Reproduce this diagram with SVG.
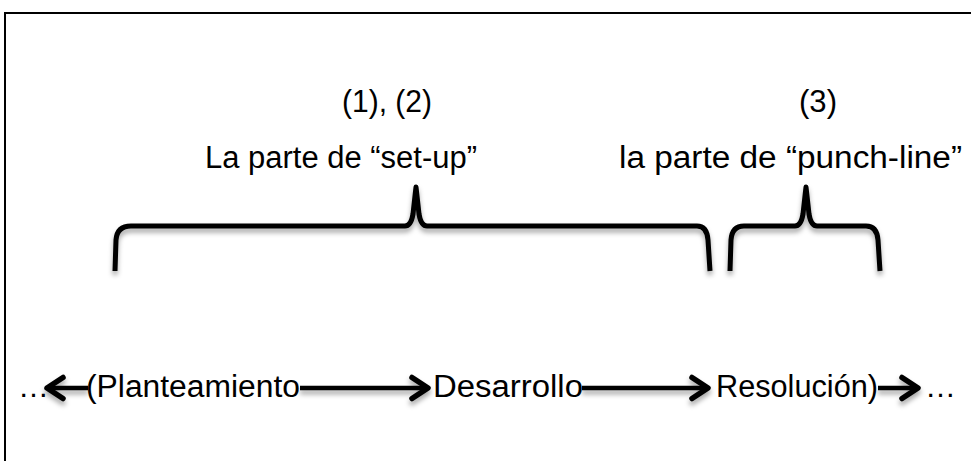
<svg xmlns="http://www.w3.org/2000/svg" width="971" height="461" viewBox="0 0 971 461">
  <defs>
    <filter id="shadow" filterUnits="userSpaceOnUse" x="0" y="0" width="971" height="461">
      <feDropShadow dx="0" dy="4" stdDeviation="2.5" flood-color="#000" flood-opacity="0.35"/>
    </filter>
    <marker id="head" viewBox="0 0 22 28" refX="19" refY="14" markerWidth="22" markerHeight="28" markerUnits="userSpaceOnUse" orient="auto-start-reverse">
      <path d="M3,3.5 L19,14 L3,24.5" fill="none" stroke="#000" stroke-width="5.5" stroke-linecap="round" stroke-linejoin="round"/>
    </marker>
  </defs>
  <style>
    text { font-family: "Liberation Sans", Arial, sans-serif; fill: #000; }
    .lbl { font-size: 31px; }
    .brace { fill: none; stroke: #000; stroke-width: 5; stroke-linecap: butt; stroke-linejoin: round; }
    .conn { fill: none; stroke: #000; stroke-width: 4.5; }
  </style>

  <rect width="971" height="461" fill="#fff"/>
  <!-- frame, open to the right and bottom -->
  <rect x="5" y="13" width="1000" height="500" fill="none" stroke="#000" stroke-width="2"/>

  <!-- set-up part -->
  <g id="setup">
    <text class="lbl" x="342" y="112" textLength="90" lengthAdjust="spacingAndGlyphs">(1), (2)</text>
    <text class="lbl" x="205" y="168" textLength="272" lengthAdjust="spacingAndGlyphs">La parte de “set-up”</text>
    <path class="brace" filter="url(#shadow)" d="M115,271 L116,240 Q117,226 131,226 L405,226 Q411,226 413,214 L416,187 L419,214 Q421,226 427,226 L697,226 Q707,226 708,240 L710,271"/>
  </g>

  <!-- punch-line part -->
  <g id="punchline">
    <text class="lbl" x="799" y="112" textLength="38" lengthAdjust="spacingAndGlyphs">(3)</text>
    <text class="lbl" x="619" y="168" textLength="343" lengthAdjust="spacingAndGlyphs">la parte de “punch-line”</text>
    <path class="brace" filter="url(#shadow)" d="M730,271 L731,240 Q732,226 744,226 L795,226 Q801,226 803,214 L806,187 L809,214 Q811,226 817,226 L866,226 Q877,226 878,240 L880,271"/>
  </g>

  <!-- stages -->
  <g id="stage-start">
    <text class="lbl" x="18" y="397">…</text>
  </g>
  <g id="planteamiento">
    <text class="lbl" x="86" y="397" textLength="214" lengthAdjust="spacingAndGlyphs">(Planteamiento</text>
  </g>
  <g id="desarrollo">
    <text class="lbl" x="433" y="397" textLength="150" lengthAdjust="spacingAndGlyphs">Desarrollo</text>
  </g>
  <g id="resolucion">
    <text class="lbl" x="716" y="397" textLength="162" lengthAdjust="spacingAndGlyphs">Resolución)</text>
  </g>
  <g id="stage-end">
    <text class="lbl" x="925" y="397">…</text>
  </g>

  <g id="connectors" filter="url(#shadow)">
    <path class="conn" d="M88,388 L47,388" marker-end="url(#head)"/>
    <path class="conn" d="M300,388 L428,388" marker-end="url(#head)"/>
    <path class="conn" d="M582,388 L708,388" marker-end="url(#head)"/>
    <path class="conn" d="M878,388 L918,388" marker-end="url(#head)"/>
  </g>
</svg>
